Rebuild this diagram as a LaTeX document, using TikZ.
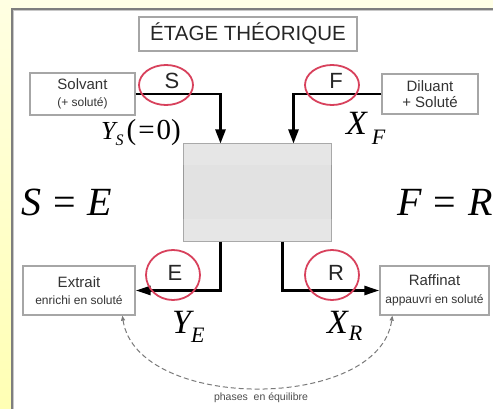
\documentclass[tikz,border=0pt]{standalone}
\usepackage{fontspec}
\setmainfont{Liberation Sans}
\newfontfamily\tms{Liberation Serif}
\usetikzlibrary{arrows.meta,shapes.geometric}
\definecolor{cream}{HTML}{FFFFE6}
\definecolor{creamtop}{HTML}{FFFFE2}
\definecolor{creambot}{HTML}{FFFFB4}
\definecolor{frame}{HTML}{7E7E7E}
\definecolor{framelt}{HTML}{C8C8C8}
\definecolor{boxline}{HTML}{A6A6A6}
\definecolor{ringred}{HTML}{D8415C}
\definecolor{stagefill}{HTML}{E2E2E2}
\definecolor{stageline}{HTML}{9A9A9A}
\definecolor{txt}{HTML}{333333}
\definecolor{dashgray}{HTML}{7A7A7A}
\tikzset{
  panelbox/.style={draw=boxline, line width=1.3pt, fill=white, inner sep=0pt, align=center, text=txt,
                   font=\fontsize{15}{16}\selectfont},
  ring/.style={ellipse, draw=ringred, line width=1.8pt, inner sep=0pt},
  ringletter/.style={inner sep=0pt, font=\fontsize{22}{22}\selectfont, text=black!85},
  flow/.style={line width=2.5pt, draw=black, -{Triangle[length=14pt,width=10pt]}},
  flowh/.style={line width=2.5pt, draw=black, -{Triangle[length=15pt,width=9pt]}},
  mathlbl/.style={inner sep=0pt, anchor=base west},
}
\newcommand{\mybigsym}[1]{{\tms\fontsize{34}{34}\selectfont\itshape #1}}
\newcommand{\mysubsym}[1]{{\tms\fontsize{22}{22}\selectfont\itshape #1}}
\newcommand{\smallline}[1]{{\fontsize{12}{12}\selectfont #1}}
\begin{document}
\begin{tikzpicture}[x=1pt,y=-1pt]
\useasboundingbox (0,0) rectangle (493,409);
% background
\fill[cream] (0,0) rectangle (493,409);
\shade[top color=creamtop, bottom color=creambot] (0,0) rectangle (11,409);
\fill[white] (11,8) rectangle (493,409);
\draw[framelt, line width=1pt] (13.5,409) -- (13.5,10.5) -- (493,10.5);
\draw[frame, line width=1.6pt] (11.8,409) -- (11.8,8.8) -- (493,8.8);

% title
\node[panelbox, minimum width=218pt, minimum height=34pt, text=black!85,
      font=\fontsize{20.5}{22}\selectfont] (title) at (248,34) {ÉTAGE THÉORIQUE};

% boxes
\node[panelbox, minimum width=105pt, minimum height=42pt] (solv) at (82.5,94)
  {Solvant\\[0.5pt]\smallline{(+ soluté)}};
\node[panelbox, minimum width=96pt, minimum height=40pt] (dil) at (430,94)
  {Diluant\\[-0.5pt]+ Soluté};
\node[panelbox, minimum width=112pt, minimum height=49pt] (extr) at (79,290.5)
  {Extrait\\[1.5pt]\smallline{enrichi en soluté}};
\node[panelbox, minimum width=109pt, minimum height=49pt] (raff) at (434.5,290.5)
  {Raffinat\\[1.5pt]\smallline{appauvri en soluté}};

% stage
\node[draw=stageline, line width=1pt, fill=stagefill, minimum width=148pt, minimum height=97pt, inner sep=0pt] (stage) at (257.5,192.5) {};
\fill[white, opacity=0.15] (stage.north west) rectangle ([yshift=-22pt]stage.north east);
\fill[white, opacity=0.15] ([yshift=22pt]stage.south west) rectangle (stage.south east);

% flows
\draw[flow] (solv.east) -| ([xshift=37.5pt]stage.north west);
\draw[flow] (dil.west) -| ([xshift=110.5pt]stage.north west);
\draw[flowh] ([xshift=37.5pt]stage.south west) |- (extr.east);
\draw[flowh] ([xshift=99.5pt]stage.south west) |- (raff.west);

% rings
\node[ring, minimum width=54pt, minimum height=40pt] (rS) at (166,85) {};
\node[ringletter] (lS) at (172,81) {S};
\node[ring, minimum width=54pt, minimum height=40pt] (rF) at (332,85) {};
\node[ringletter] (lF) at (336,81) {F};
\node[ring, minimum width=54pt, minimum height=50pt] (rE) at (173,275) {};
\node[ringletter] (lE) at (175,273) {E};
\node[ring, minimum width=54pt, minimum height=50pt] (rR) at (332,275) {};
\node[ringletter] (lR) at (336,273) {R};

% math labels
\node[mathlbl] (ys) at (101,140)
  {{\tms\fontsize{26}{26}\selectfont\itshape Y}\raisebox{-6pt}{\tms\fontsize{16}{16}\selectfont\itshape S}\hspace{3pt}{\tms\fontsize{29}{29}\selectfont(\hspace{2pt}=\hspace{2pt}0)}};
\node[mathlbl] (xf) at (346,135) {\mybigsym{X}\hspace{5pt}\raisebox{-10pt}{\mysubsym{F}}};
\node[mathlbl] (ye) at (172,333) {\mybigsym{Y}\raisebox{-9pt}{\mysubsym{E}}};
\node[mathlbl] (xr) at (327,333) {\mybigsym{X}\hspace{1pt}\raisebox{-7pt}{\mysubsym{R}}};
\node[mathlbl] (se) at (21,215) {{\tms\fontsize{40}{40}\selectfont\itshape S\hspace{12pt}\textup{=}\hspace{12pt}E}};
\node[mathlbl] (fr) at (397,215) {{\tms\fontsize{40}{40}\selectfont\itshape F\hspace{12pt}\textup{=}\hspace{12pt}R}};

% equilibrium
\draw[dashgray, line width=1pt, dash pattern=on 5pt off 3pt, {Triangle[length=5pt,width=4pt]}-{Triangle[length=5pt,width=4pt]}]
  ([xshift=100pt]extr.south west) .. controls (137,412) and (379,412) .. ([xshift=13pt]raff.south west);
\node[inner sep=0pt, text=black!70, font=\fontsize{10.5}{12}\selectfont] (eq) at (261,398) {phases\ \ en équilibre};
\end{tikzpicture}
\end{document}
